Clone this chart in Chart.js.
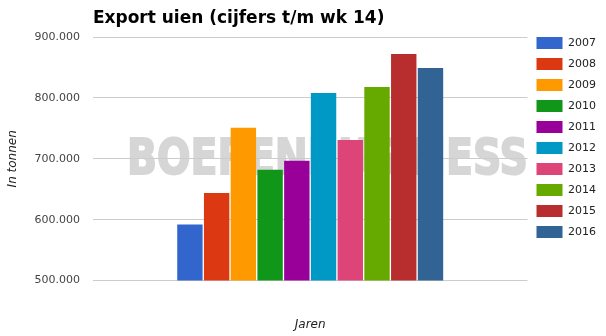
<!DOCTYPE html>
<html>
<head>
<meta charset="utf-8">
<title>Export uien</title>
<script src="https://cdn.jsdelivr.net/npm/chart.js@4.4.0/dist/chart.umd.min.js"></script>
<style>
  html, body { margin: 0; padding: 0; background: #fff; }
  #wrap { width: 606px; height: 336px; position: relative; }
</style>
</head>
<body>
<div id="wrap"><canvas id="exportChart"></canvas></div>
<script>
// Export uien - data per jaar (tonnen, t/m week 14)
const categories = [''];
const years = ['2007', '2008', '2009', '2010', '2011', '2012', '2013', '2014', '2015', '2016'];
const exportValues = [592000, 644000, 751000, 682000, 697000, 808000, 731000, 818000, 872000, 849000];
const yTicks = [500000, 600000, 700000, 800000, 900000];
const barColors = ['#3366cc', '#dc3912', '#ff9900', '#109618', '#990099',
                   '#0099c6', '#dd4477', '#66aa00', '#b82e2e', '#316395'];

// 900000 -> "900.000"
function formatThousands(v) {
    return String(v).replace(/\B(?=(\d{3})+(?!\d))/g, '.');
}

// Title left-aligned on the plot area
const titlePlugin = {
    id: 'leftTitle',
    afterDraw(chart) {
        const ctx = chart.ctx;
        ctx.save();
        ctx.font = 'bold 17px "DejaVu Sans"';
        ctx.fillStyle = '#000';
        ctx.textBaseline = 'alphabetic';
        ctx.fillText('Export uien (cijfers t/m wk 14)', chart.chartArea.left, 23);
        ctx.restore();
    }
};

// Watermark behind grid and bars
const watermarkPlugin = {
    id: 'watermark',
    beforeDraw(chart) {
        const ctx = chart.ctx;
        const text = 'BOERENBUSINESS';
        ctx.save();
        ctx.font = '900 50px "DejaVu Sans"';
        const w = ctx.measureText(text).width;
        ctx.translate(127, 174);
        ctx.scale(401 / w, 1);
        ctx.fillStyle = '#d6d6d6';
        ctx.strokeStyle = '#d6d6d6';
        ctx.lineWidth = 2;
        ctx.fillText(text, 0, 0);
        ctx.strokeText(text, 0, 0);
        ctx.restore();
    }
};

// Legend sits higher than the plot area top
const legendShift = {
    id: 'legendShift',
    afterLayout(chart) {
        chart.legend.top -= 9;
        chart.legend.bottom -= 9;
    }
};

document.addEventListener('DOMContentLoaded', function() {
    const ctx = document.getElementById('exportChart').getContext('2d');
    new Chart(ctx, {
        type: 'bar',
        data: {
            labels: categories,
            datasets: years.map((y, i) => ({
                label: y,
                data: [exportValues[i]],
                backgroundColor: barColors[i],
                borderWidth: 0
            }))
        },
        options: {
            responsive: true,
            maintainAspectRatio: false,
            animation: false,
            categoryPercentage: 0.615,
            barPercentage: 0.95,
            layout: {
                padding: { top: 37, right: 0, left: 6, bottom: 2 }
            },
            plugins: {
                title: { display: false },
                tooltip: { enabled: false },
                legend: {
                    position: 'right',
                    align: 'start',
                    labels: {
                        boxWidth: 26,
                        boxHeight: 12,
                        padding: 9,
                        color: '#222',
                        font: { family: '"DejaVu Sans"', size: 11 }
                    }
                }
            },
            scales: {
                x: {
                    grid: { display: false },
                    border: { display: false },
                    ticks: { display: false },
                    title: {
                        display: true,
                        text: 'Jaren',
                        color: '#222',
                        font: { family: '"DejaVu Sans"', size: 12, style: 'italic' },
                        padding: { top: 29, bottom: 2 }
                    }
                },
                y: {
                    min: 500000,
                    max: 900000,
                    afterBuildTicks: function(axis) {
                        axis.ticks = yTicks.map(v => ({ value: v }));
                    },
                    grid: { color: '#cccccc', drawTicks: false },
                    border: { display: false },
                    ticks: {
                        color: '#444',
                        padding: 13,
                        font: { family: '"DejaVu Sans"', size: 11 },
                        callback: function(value) {
                            return formatThousands(value);
                        }
                    },
                    title: {
                        display: true,
                        text: 'In tonnen',
                        color: '#222',
                        font: { family: '"DejaVu Sans"', size: 12, style: 'italic' },
                        padding: { top: 0, bottom: 1 }
                    }
                }
            }
        },
        plugins: [watermarkPlugin, titlePlugin, legendShift]
    });
});
</script>
</body>
</html>
